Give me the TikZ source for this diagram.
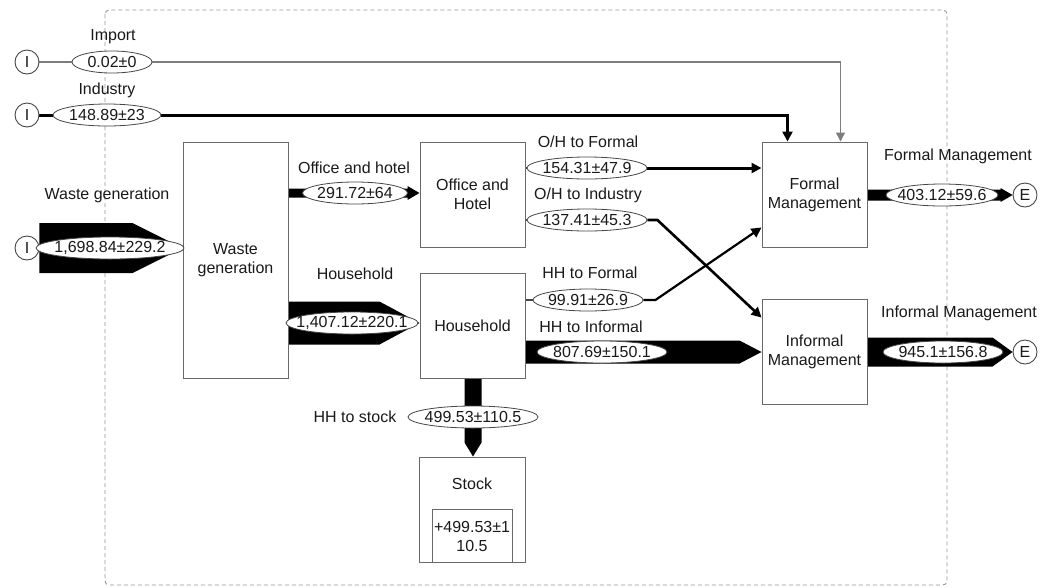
\documentclass[tikz,border=0pt]{standalone}
\usepackage{fontspec}
\setmainfont{Liberation Sans}
\usetikzlibrary{arrows.meta,calc,shapes.geometric,backgrounds}
\definecolor{boxgray}{RGB}{105,105,105}
\definecolor{ellgray}{RGB}{70,70,70}
\definecolor{linegray}{RGB}{125,125,125}
\definecolor{dashgray}{RGB}{150,150,150}
\definecolor{txt}{RGB}{25,25,25}
% horizontal tapered band: start, end, half width, taper length
\newcommand\bandH[4]{\fill ($(#1)+(0,#3)$) -- ($(#2)+(-#4,#3)$) -- (#2) -- ($(#2)+(-#4,-#3)$) -- ($(#1)+(0,-#3)$) -- cycle;}
% horizontal band with a wider tip: start, end, half width, tip length, tip half width
\newcommand\bandTip[5]{\fill ($(#1)+(0,#3)$) -- ($(#2)+(-#4,#3)$) -- ($(#2)+(-#4,#5)$) -- (#2) -- ($(#2)+(-#4,-#5)$) -- ($(#2)+(-#4,-#3)$) -- ($(#1)+(0,-#3)$) -- cycle;}
% vertical tapered band (downwards)
\newcommand\bandV[4]{\fill ($(#1)+(#3,0)$) -- ($(#2)+(#3,-#4)$) -- (#2) -- ($(#2)+(-#3,-#4)$) -- ($(#1)+(-#3,0)$) -- cycle;}
\begin{document}
\begin{tikzpicture}[x=1pt,y=-1pt,
  font=\fontsize{16}{19}\selectfont, text=txt,
  box/.style={draw=boxgray, line width=1pt, inner sep=0pt, align=center,
    minimum width=105pt, minimum height=105pt},
  val/.style={ellipse, draw=ellgray, fill=white, line width=0.8pt, inner sep=0pt,
    minimum height=22pt, minimum width=#1},
  vtext/.style={inner sep=0pt, text=txt},
  term/.style={circle, draw=ellgray, fill=white, line width=0.9pt,
    minimum size=24pt, inner sep=0pt},
  lbl/.style={inner sep=0pt, align=center},
  thinflow/.style={draw=linegray, line width=1.2pt},
  midflow/.style={draw=black, line width=3pt},
  tipS/.style={-{Triangle[length=9pt,width=9pt]}},
  tipM/.style={-{Triangle[length=10pt,width=10pt]}},
  border/.style={draw=dashgray, line width=0.9pt, dash pattern=on 4pt off 3pt, rounded corners=4pt}
]
\useasboundingbox (0,0) rectangle (1048,587);

% ---------- boxes ----------
\node[box, minimum height=236pt] (wg) at (235.5,260) {Waste\\generation};
\node[box] (oh) at (472.5,194.5) {Office and\\Hotel};
\node[box] (hh) at (472.5,325.5) {Household};
\node[box] (fm) at (814.5,194.5) {Formal\\Management};
\node[box] (im) at (814.5,351.5) {Informal\\Management};
\node[box, minimum width=106pt] (st) at (472,509.5) {};
\node[lbl] (stlbl) at (472,484) {Stock};
\node[lbl] (sttxt) at (472,536) {+499.53±1\\10.5};

% ---------- terminals ----------
\node[term] (i1) at (27,62) {I};
\node[term] (i2) at (27,115) {I};
\node[term] (i3) at (27,248) {I};
\node[term] (e1) at (1025,195) {E};
\node[term] (e2) at (1025,352) {E};

% ---------- values ----------
\node[val=80pt,  label={[vtext]center:0.02±0}] (vImp) at (112,62) {};
\node[val=108pt, label={[vtext]center:148.89±23}] (vInd) at (107,115) {};
\node[val=148pt, label={[vtext]center:1,698.84±229.2}] (vWG) at (110,248) {};
\node[val=105pt, label={[vtext]center:291.72±64}] (vOH) at (355,193) {};
\node[val=132pt, label={[vtext]center:1,407.12±220.1}] (vHH) at (352,323) {};
\node[val=120pt, label={[vtext]center:154.31±47.9}] (vOHF) at (587,168) {};
\node[val=120pt, label={[vtext]center:137.41±45.3}] (vOHI) at (587,220) {};
\node[val=110pt, label={[vtext]center:99.91±26.9}] (vHHF) at (588,300) {};
\node[val=130pt, label={[vtext]center:807.69±150.1}] (vHHI) at (602,352) {};
\node[val=130pt, label={[vtext]center:499.53±110.5}] (vHHS) at (473,417) {};
\node[val=112pt, label={[vtext]center:403.12±59.6}] (vFM) at (942,195) {};
\node[val=120pt, label={[vtext]center:945.1±156.8}] (vIM) at (943,352) {};

% ---------- labels ----------
\node[lbl] (lImp) at (113,37) {Import};
\node[lbl] (lInd) at (107,90) {Industry};
\node[lbl] (lWG) at (107,195) {Waste generation};
\node[lbl] (lOH) at (354,168) {Office and hotel};
\node[lbl] (lHH) at (355,274) {Household};
\node[lbl] (lOHF) at (588,142) {O/H to Formal};
\node[lbl] (lOHI) at (588,195) {O/H to Industry};
\node[lbl] (lHHF) at (590,273) {HH to Formal};
\node[lbl] (lHHI) at (591,327) {HH to Informal};
\node[lbl] (lHHS) at (355,417) {HH to stock};
\node[lbl] (lFM) at (958,156) {Formal Management};
\node[lbl] (lIM) at (959,313) {Informal Management};

% ---------- anchor points ----------
\coordinate (fmA) at ($(fm.north west)+(26,0)$);
\coordinate (fmB) at ($(fm.north west)+(79,0)$);
\coordinate (fmC) at ($(fm.south west)+(0,-20)$);
\coordinate (imA) at ($(im.north west)+(0,19)$);
\coordinate (wgIn) at (wg.west |- i3);
\coordinate (ohOut) at (wg.east |- vOH);
\coordinate (ohIn) at (oh.west |- vOH);
\coordinate (hhOut) at (wg.east |- vHH);
\coordinate (hhIn) at (hh.west |- vHH);
\coordinate (hhiOut) at (hh.east |- vHHI);
\coordinate (hhiIn) at (im.west |- vHHI);
\coordinate (hsOut) at (vHHS |- hh.south);
\coordinate (hsIn) at (vHHS |- st.north);
\coordinate (fmOut) at (fm.east |- e1);
\coordinate (imOut) at (im.east |- e2);

% inner stock box
\draw[draw=boxgray, line width=1pt] (432,562) -- (432,509) -- (512,509) -- (512,562);

% ---------- flows (behind the nodes) ----------
\begin{scope}[on background layer]
  \draw[border] (105,10) rectangle (947,585);
  % import
  \draw[thinflow] (i1) -- (vImp);
  \draw[thinflow, tipS] (vImp.east) -| (fmB);
  % industry
  \draw[midflow] (i2) -- (vInd);
  \draw[midflow, tipM] (vInd.east) -| (fmA);
  % waste generation input
  \bandH{i3.east}{wgIn}{25}{50}
  % to office and hotel
  \bandTip{ohOut}{ohIn}{4.5}{12}{7}
  % to household
  \bandH{hhOut}{hhIn}{21.5}{40}
  % O/H to formal
  \draw[thinflow, draw=ellgray] (oh.east |- vOHF) -- (vOHF.west);
  \draw[midflow, tipM] (vOHF.east) -- (fm.west |- vOHF);
  % O/H to industry
  \draw[thinflow, draw=ellgray] (oh.east |- vOHI) -- (vOHI.west);
  \draw[midflow, line width=2.6pt, tipM] (vOHI.east) -- ++(10,0) -- (imA);
  % HH to formal
  \draw[thinflow, draw=ellgray, line width=2pt] (hh.east |- vHHF) -- (vHHF.west);
  \draw[midflow, line width=2.2pt, tipM] (vHHF.east) -- ++(12,0) -- (fmC);
  % HH to informal
  \bandH{hhiOut}{hhiIn}{11.5}{22}
  % HH to stock
  \bandV{hsOut}{hsIn}{8.5}{14}
  % formal management out
  \bandTip{fmOut}{e1.west}{5.5}{12}{7}
  % informal management out
  \bandH{imOut}{e2.west}{14.5}{20}
\end{scope}
\end{tikzpicture}
\end{document}
